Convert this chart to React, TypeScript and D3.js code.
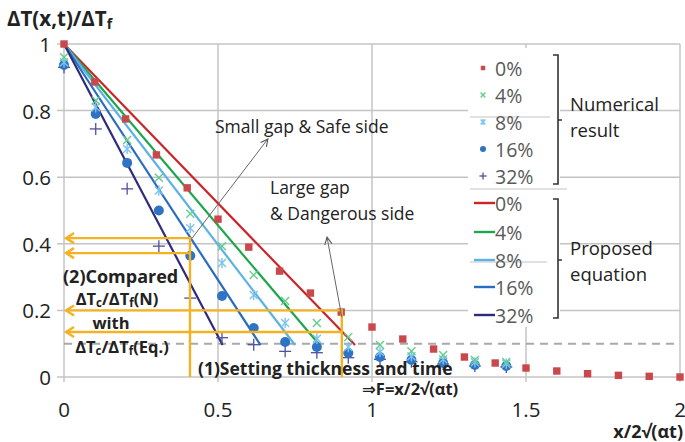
import React from "react";
import * as d3 from "d3";

// Numerical results: x/2√(αt) positions and ΔT/ΔTf values for each gap ratio
const xGap0 = [0, 0.1, 0.2, 0.3, 0.4, 0.5, 0.6, 0.7, 0.8, 0.9, 1.0, 1.1, 1.2, 1.3, 1.4, 1.5, 1.6, 1.7, 1.8, 1.9, 2.0];
const yGap0 = [1, 0.886, 0.775, 0.667, 0.568, 0.474, 0.39, 0.318, 0.252, 0.195, 0.15, 0.114, 0.084, 0.06, 0.042, 0.027, 0.018, 0.01, 0.005, 0.002, 0.0];
const xGapN = [0, 0.103, 0.205, 0.308, 0.41, 0.513, 0.616, 0.718, 0.821, 0.923, 1.026, 1.128, 1.231, 1.334, 1.436];
const yGap4 = [0.96, 0.83, 0.712, 0.598, 0.49, 0.393, 0.306, 0.228, 0.162, 0.12, 0.096, 0.077, 0.066, 0.051, 0.045];
const yGap8 = [0.945, 0.81, 0.685, 0.56, 0.447, 0.342, 0.246, 0.162, 0.115, 0.09, 0.075, 0.062, 0.053, 0.044, 0.04];
const yGap16 = [0.937, 0.79, 0.643, 0.5, 0.364, 0.243, 0.147, 0.105, 0.09, 0.072, 0.06, 0.051, 0.042, 0.036, 0.033];
const yGap32 = [0.93, 0.745, 0.565, 0.393, 0.237, 0.118, 0.097, 0.077, 0.073, 0.058, 0.053, 0.046, 0.039, 0.033, 0.03];

// Proposed equation: straight lines from (0, 1) down to the 0.1 level
const eqLabels = ["0%", "4%", "8%", "16%", "32%"];
const eqEndX = [0.945, 0.83, 0.75, 0.638, 0.515];
const eqEndY = 0.096;
const eqColors = ["#c8262b", "#1ea64c", "#5cb3e3", "#2a6cc0", "#2e2b7c"];

const xTicks = [0, 0.5, 1, 1.5, 2];
const xTickLabels = ["0", "0.5", "1", "1.5", "2"];
const yTicks = [0, 0.2, 0.4, 0.6, 0.8, 1];
const yTickLabels = ["0", "0.2", "0.4", "0.6", "0.8", "1"];
const refLevel = 0.1;

// Read-off guides: vertical at chosen F, horizontal levels compared
const guideA = { x: 0.409, yHi: 0.417, yLo: 0.372 };
const guideB = { x: 0.902, yHi: 0.2, yLo: 0.135 };

const W = 685;
const H = 442;
const FONT = "'Open Sans', 'DejaVu Sans', sans-serif";
const ORANGE = "#f4b223";
const GRID = "#c4c4c4";

const x = d3.scaleLinear().domain([0, 2]).range([64, 680]);
const y = d3.scaleLinear().domain([0, 1]).range([377, 44]);

type MarkerKind = "square" | "x" | "star" | "circle" | "plus";

function Marker({ kind, cx, cy, s = 1 }: { kind: MarkerKind; cx: number; cy: number; s?: number }) {
  if (kind === "square") {
    const h = 3.7 * s;
    return <rect x={cx - h} y={cy - h} width={2 * h} height={2 * h} fill="#c9484b" />;
  }
  if (kind === "circle") {
    return <circle cx={cx} cy={cy} r={5 * s} fill="#2e73c4" />;
  }
  if (kind === "plus") {
    const h = 6 * s;
    return (
      <g stroke="#4f509e" strokeWidth={1.3}>
        <line x1={cx - h} y1={cy} x2={cx + h} y2={cy} />
        <line x1={cx} y1={cy - h} x2={cx} y2={cy + h} />
      </g>
    );
  }
  const h = 4 * s;
  const col = kind === "x" ? "#62cd8c" : "#7cc3ec";
  return (
    <g stroke={col} strokeWidth={1.4}>
      <line x1={cx - h} y1={cy - h} x2={cx + h} y2={cy + h} />
      <line x1={cx - h} y1={cy + h} x2={cx + h} y2={cy - h} />
      {kind === "star" && <line x1={cx} y1={cy - h * 1.3} x2={cx} y2={cy + h * 1.3} />}
    </g>
  );
}

export default function App() {
  const numSeries: { kind: MarkerKind; xs: number[]; ys: number[] }[] = [
    { kind: "square", xs: xGap0, ys: yGap0 },
    { kind: "x", xs: xGapN, ys: yGap4 },
    { kind: "star", xs: xGapN, ys: yGap8 },
    { kind: "circle", xs: xGapN, ys: yGap16 },
    { kind: "plus", xs: xGapN, ys: yGap32 },
  ];
  const kinds: MarkerKind[] = ["square", "x", "star", "circle", "plus"];
  const lineGen = d3.line<[number, number]>().x((d) => x(d[0])).y((d) => y(d[1]));

  const chevron = (px: number, py: number) =>
    `M${px + 8},${py - 5} L${px},${py} L${px + 8},${py + 5}`;

  const legTop = [68, 95, 122, 149, 176];
  const legBot = [203, 232, 260, 287, 315];

  return (
    <svg width={W} height={H} style={{ position: "absolute", left: 0, top: 0, background: "#fff" }} fontFamily={FONT}>
      {/* grid */}
      <g stroke={GRID} strokeWidth={1.5}>
        {yTicks.map((t) => (
          <line key={"gy" + t} x1={57} x2={x(2)} y1={y(t)} y2={y(t)} />
        ))}
        {xTicks.map((t) => (
          <line key={"gx" + t} x1={x(t)} x2={x(t)} y1={y(1)} y2={y(0) + 5} />
        ))}
      </g>
      <line x1={x(0)} x2={x(2)} y1={y(refLevel)} y2={y(refLevel)} stroke="#a9a9a9" strokeWidth={2} strokeDasharray="8,6" />

      {/* tick labels */}
      <g fontSize={20.5} fill="#222">
        {yTicks.map((t, i) => (
          <text key={"ly" + t} x={51} y={y(t)} textAnchor="end" dominantBaseline="central">
            {yTickLabels[i]}
          </text>
        ))}
        {xTicks.map((t, i) => (
          <text key={"lx" + t} x={x(t)} y={409} textAnchor="middle" dominantBaseline="central">
            {xTickLabels[i]}
          </text>
        ))}
      </g>

      {/* proposed equation lines */}
      {eqEndX.map((ex, i) => (
        <path
          key={"eq" + i}
          d={lineGen([[0, 1], [ex, eqEndY]]) || ""}
          stroke={eqColors[i]}
          strokeWidth={2.2}
          fill="none"
        />
      ))}

      {/* numerical result markers */}
      {numSeries
        .slice()
        .reverse()
        .map((s, si) => (
          <g key={"ns" + si}>
            {s.xs.map((xv, i) => (
              <Marker key={i} kind={s.kind} cx={x(xv)} cy={y(s.ys[i])} />
            ))}
          </g>
        ))}

      {/* guide lines */}
      <g stroke={ORANGE} strokeWidth={2.4} fill="none">
        <path d={`M${x(guideA.x)},${y(0)} V${y(guideA.yHi)} H${x(0) + 2}`} />
        <path d={`M${x(guideA.x)},${y(guideA.yLo)} H${x(0) + 2}`} />
        <path d={`M${x(guideB.x)},${y(0)} V${y(guideB.yHi)} H${x(0) + 2}`} />
        <path d={`M${x(guideB.x)},${y(guideB.yLo)} H${x(0) + 2}`} />
        {[guideA.yHi, guideA.yLo, guideB.yHi, guideB.yLo].map((v) => (
          <path key={"ch" + v} d={chevron(x(0) + 2, y(v))} />
        ))}
      </g>

      {/* pointer arrows */}
      <defs>
        <marker id="ah" viewBox="0 0 10 10" refX="9" refY="5" markerWidth="9" markerHeight="9" orient="auto">
          <path d="M1,1 L9,5 L1,9" fill="none" stroke="#555" strokeWidth={1.2} />
        </marker>
      </defs>
      <line x1={x(0.416)} y1={y(0.417)} x2={x(0.662)} y2={y(0.715)} stroke="#666" strokeWidth={1} markerEnd="url(#ah)" />
      <line x1={x(0.902)} y1={y(0.18)} x2={x(0.854)} y2={y(0.42)} stroke="#666" strokeWidth={1} markerEnd="url(#ah)" />

      {/* annotations */}
      <g fontSize={17.5} fill="#222">
        <text x={215} y={126} dominantBaseline="central">Small gap &amp; Safe side</text>
        <text x={270} y={187} dominantBaseline="central">Large gap</text>
        <text x={270} y={213} dominantBaseline="central">&amp; Dangerous side</text>
      </g>
      <g fontWeight="bold" fill="#222">
        <text x={63} y={276} fontSize={18} dominantBaseline="central">(2)Compared</text>
        <text x={117} y={298} fontSize={16.5} textAnchor="middle" dominantBaseline="central">
          ΔT<tspan fontSize={11.5} dy={4}>c</tspan>
          <tspan dy={-4}>/ΔT</tspan>
          <tspan fontSize={11.5} dy={4}>f</tspan>
          <tspan dy={-4}>(N)</tspan>
        </text>
        <text x={111} y={322} fontSize={16.5} textAnchor="middle" dominantBaseline="central">with</text>
        <text x={122} y={346} fontSize={16.5} textAnchor="middle" dominantBaseline="central">
          ΔT<tspan fontSize={11.5} dy={4}>c</tspan>
          <tspan dy={-4}>/ΔT</tspan>
          <tspan fontSize={11.5} dy={4}>f</tspan>
          <tspan dy={-4}>(Eq.)</tspan>
        </text>
        <text x={198} y={368} fontSize={17.5} dominantBaseline="central">(1)Setting thickness and time</text>
        <text x={362} y={388} fontSize={16.5} dominantBaseline="central">⇒F=x/2√(αt)</text>
      </g>

      {/* legend */}
      <rect x={468} y={48} width={92} height={279} fill="#fff" />
      <g stroke={GRID} strokeWidth={1.2}>
        <line x1={470} x2={550} y1={117} y2={117} />
        <line x1={470} x2={567} y1={189} y2={189} />
        <line x1={470} x2={547} y1={262} y2={262} />
      </g>
      <g fontSize={19.5} fill="#595959">
        {eqLabels.map((lab, i) => (
          <g key={"lt" + i}>
            <Marker kind={kinds[i]} cx={483} cy={legTop[i]} s={0.6} />
            <text x={495} y={legTop[i]} dominantBaseline="central">{lab}</text>
          </g>
        ))}
        {eqLabels.map((lab, i) => (
          <g key={"lb" + i}>
            <line x1={474} x2={495} y1={legBot[i]} y2={legBot[i]} stroke={eqColors[i]} strokeWidth={2.4} />
            <text x={495} y={legBot[i]} dominantBaseline="central">{lab}</text>
          </g>
        ))}
      </g>
      <g stroke="#333" strokeWidth={1.6} fill="none">
        <path d="M553,55 H558 V184 H553 M558,120 H562" />
        <path d="M553,199 H558 V318 H553 M558,260 H562" />
      </g>
      <g fontSize={18.5} fill="#222">
        <text x={570} y={103} dominantBaseline="central">Numerical</text>
        <text x={570} y={129} dominantBaseline="central">result</text>
        <text x={570} y={247} dominantBaseline="central">Proposed</text>
        <text x={570} y={273} dominantBaseline="central">equation</text>
      </g>

      {/* axis titles */}
      <text x={7} y={18} fontSize={20.5} fontWeight="bold" fill="#222" dominantBaseline="central">
        ΔT(x,t)/ΔT<tspan fontSize={14} dy={5}>f</tspan>
      </text>
      <text x={683} y={431} fontSize={18} fontWeight="bold" fill="#222" textAnchor="end" dominantBaseline="central">
        x/2√(αt)
      </text>
    </svg>
  );
}
